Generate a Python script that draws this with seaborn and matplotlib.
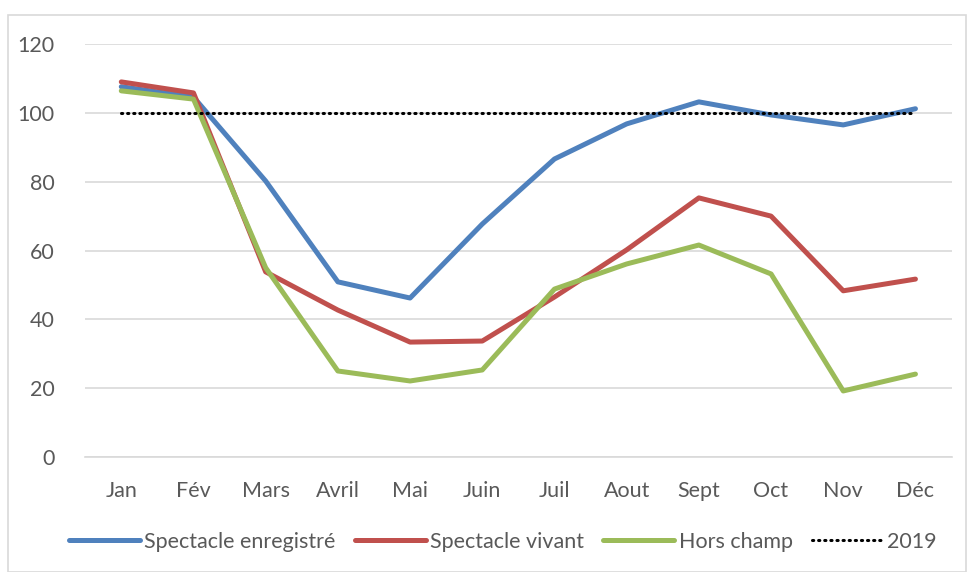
import pandas as pd
import numpy as np
import matplotlib
matplotlib.use("Agg")
import matplotlib.pyplot as plt
import seaborn as sns
from matplotlib.patches import Rectangle

# donnees
mois = ["Jan", "Fév", "Mars", "Avril", "Mai", "Juin", "Juil", "Aout", "Sept", "Oct", "Nov", "Déc"]
enregistre = [107.6, 104.6, 80.2, 50.9, 46.2, 67.7, 86.6, 96.8, 103.2, 99.4, 96.5, 101.2]
vivant = [109.0, 105.8, 53.8, 42.7, 33.4, 33.7, 46.5, 60.2, 75.3, 70.0, 48.3, 51.7]
hors_champ = [106.4, 104.0, 55.0, 25.0, 22.1, 25.3, 48.8, 56.1, 61.6, 53.2, 19.2, 24.1]
ref_2019 = [100] * 12

series = {"Spectacle enregistré": enregistre,
          "Spectacle vivant": vivant,
          "Hors champ": hors_champ,
          "2019": ref_2019}

df = pd.concat([pd.DataFrame({"mois": np.arange(len(mois)), "valeur": v, "serie": k})
                for k, v in series.items()], ignore_index=True)

couleurs = {"Spectacle enregistré": "#4F81BD", "Spectacle vivant": "#C0504D",
            "Hors champ": "#9BBB59", "2019": "black"}

sns.set_style("white")
plt.rcParams["font.family"] = ["Lato", "DejaVu Sans"]
gris = "#595959"

fig = plt.figure(figsize=(9.68, 5.72), dpi=100)
ax = fig.add_axes([0.088, 0.201, 0.895, 0.722])

for nom in ["Spectacle enregistré", "Spectacle vivant", "Hors champ"]:
    sns.lineplot(data=df[df["serie"] == nom], x="mois", y="valeur", color=couleurs[nom],
                 linewidth=3.6, label=nom, ax=ax, solid_capstyle="round")
sns.lineplot(data=df[df["serie"] == "2019"], x="mois", y="valeur", color="black",
             linewidth=2.2, linestyle=(0, (0.4, 1.6)), dash_capstyle="round", label="2019", ax=ax)

ax.set_xlim(-0.5, len(mois) - 0.5)
ax.set_ylim(0, 120)
ax.set_yticks(range(0, 121, 20))
ax.set_xticks(range(len(mois)))
ax.set_xticklabels(mois)
ax.set_xticks(np.arange(-0.5, len(mois), 1), minor=True)
ax.grid(axis="y", color="#D9D9D9", linewidth=1.2)
ax.set_axisbelow(True)
for s in ["top", "right", "left"]:
    ax.spines[s].set_visible(False)
ax.spines["bottom"].set_color("#D9D9D9")
ax.spines["bottom"].set_linewidth(1.2)
ax.tick_params(axis="x", which="major", length=0, pad=17, labelsize=15.5, colors=gris)
ax.tick_params(axis="x", which="minor", length=5, color="#D9D9D9", width=1.2)
ax.tick_params(axis="y", length=0, pad=22, labelsize=15.5, colors=gris)
ax.set_xlabel("")
ax.set_ylabel("")

leg = ax.legend(loc="center", bbox_to_anchor=(0.482, -0.205), ncol=4, frameon=False,
                fontsize=15.5, handlelength=3.3, handletextpad=0.2, columnspacing=0.9)
for t in leg.get_texts():
    t.set_color(gris)

fig.patches.append(Rectangle((8 / 968, 0.0), 958 / 968, 1 - 15 / 572, transform=fig.transFigure,
                             fill=False, edgecolor="#D9D9D9", linewidth=1.2))

fig.savefig("out.png", dpi=100)
